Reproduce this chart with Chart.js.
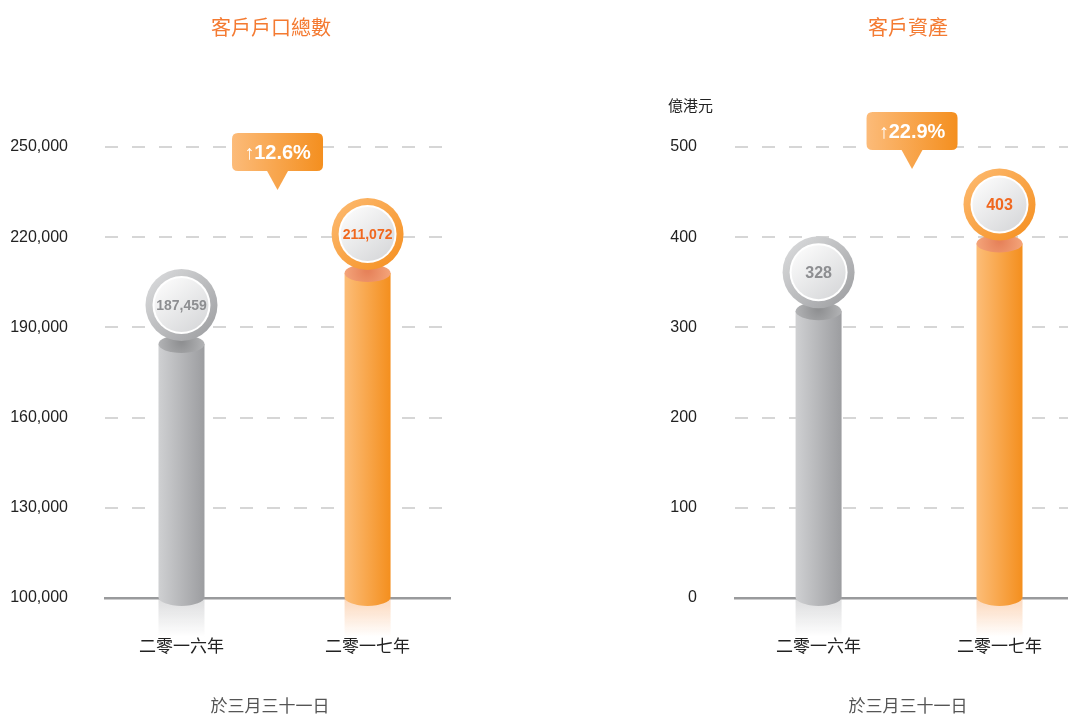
<!DOCTYPE html>
<html><head><meta charset="utf-8">
<script src="https://cdn.jsdelivr.net/npm/chart.js@4.4.1/dist/chart.umd.min.js"></script>
<style>
html,body{margin:0;padding:0;background:#fff;}
#wrap{position:relative;width:1068px;height:714px;overflow:hidden;}
canvas{position:absolute;top:0;}
.t{position:absolute;white-space:nowrap;transform:translateX(-50%);font-family:"Noto Sans CJK TC",sans-serif;}
.title{top:14px;font-size:20px;color:#f47a31;line-height:26px;}
.foot{top:693px;font-size:17px;color:#555;line-height:24px;}
.unit{position:absolute;left:668px;top:95px;font-size:15px;color:#222;font-family:"Noto Sans CJK TC",sans-serif;line-height:20px;white-space:nowrap;}
</style></head><body>
<div id="wrap">
<canvas id="c1" width="534" height="714" style="left:0"></canvas>
<canvas id="c2" width="545" height="714" style="left:534px"></canvas>
<div class="t title" style="left:271px">客戶戶口總數</div>
<div class="t title" style="left:908px">客戶資產</div>
<div class="unit">億港元</div>
<div class="t foot" style="left:270px">於三月三十一日</div>
<div class="t foot" style="left:908px">於三月三十一日</div>
</div>
<script>
const years = ['二零一六年', '二零一七年'];
const accountTotals = [187459, 211072];
const clientAssets = [328, 403];
const accountGrowth = '12.6%';
const assetGrowth = '22.9%';
const accountTicks = [100000, 130000, 160000, 190000, 220000, 250000];
const assetTicks = [0, 100, 200, 300, 400, 500];

const palettes = [
  {light:'#cfd0d2', dark:'#9c9da0', top1:'#b2b3b5', top2:'#8f9092', ringA:'#dedfe0', ringB:'#9a9b9e', text:'#8d8e91', refl:'rgba(175,176,179,'},
  {light:'#fcbd78', dark:'#f48f1e', top1:'#f4a47a', top2:'#e6825a', ringA:'#fdbc74', ringB:'#f58e1d', text:'#f0681f', refl:'rgba(248,165,100,'}
];

function roundRect(ctx, x, y, w, h, r){
  ctx.beginPath();
  ctx.moveTo(x+r, y);
  ctx.lineTo(x+w-r, y); ctx.quadraticCurveTo(x+w, y, x+w, y+r);
  ctx.lineTo(x+w, y+h-r); ctx.quadraticCurveTo(x+w, y+h, x+w-r, y+h);
  ctx.lineTo(x+r, y+h); ctx.quadraticCurveTo(x, y+h, x, y+h-r);
  ctx.lineTo(x, y+r); ctx.quadraticCurveTo(x, y, x+r, y);
  ctx.closePath();
}

const cylPlugin = {
  id: 'cyl',
  afterDatasetsDraw(chart, args, opts){
    const ctx = chart.ctx;
    const meta = chart.getDatasetMeta(0);
    const ry = 9;
    ctx.save();
    meta.data.forEach((bar, i) => {
      const p = palettes[i];
      const x = bar.x, w = bar.width, l = x - w/2, r = x + w/2;
      const top = bar.y + ry, base = bar.base;
      // reflection
      let g = ctx.createLinearGradient(0, base, 0, base + 40);
      g.addColorStop(0, p.refl + '0.45)');
      g.addColorStop(1, p.refl + '0)');
      ctx.fillStyle = g;
      ctx.fillRect(l, base, w, 40);
      // body
      const hg = ctx.createLinearGradient(l, 0, r, 0);
      hg.addColorStop(0, p.light); hg.addColorStop(1, p.dark);
      ctx.fillStyle = hg;
      ctx.beginPath();
      ctx.moveTo(l, top);
      ctx.lineTo(l, base);
      ctx.ellipse(x, base, w/2, ry, 0, Math.PI, 0, true);
      ctx.lineTo(r, top);
      ctx.closePath();
      ctx.fill();
      // top ellipse
      const rg = ctx.createRadialGradient(x, top - 3, 2, x, top, w/2);
      rg.addColorStop(0, p.top2); rg.addColorStop(1, p.top1);
      ctx.fillStyle = rg;
      ctx.beginPath();
      ctx.ellipse(x, top, w/2, ry, 0, 0, Math.PI*2);
      ctx.fill();
      // value badge
      const cy = bar.y - 30, R = 36;
      const cg = ctx.createLinearGradient(x - R, cy - R, x + R, cy + R);
      cg.addColorStop(0, p.ringA); cg.addColorStop(1, p.ringB);
      ctx.fillStyle = cg;
      ctx.beginPath(); ctx.arc(x, cy, R, 0, Math.PI*2); ctx.fill();
      ctx.fillStyle = '#ffffff';
      ctx.beginPath(); ctx.arc(x, cy, 29, 0, Math.PI*2); ctx.fill();
      const ig = ctx.createLinearGradient(x - 20, cy - 24, x + 20, cy + 26);
      ig.addColorStop(0, '#fbfbfb'); ig.addColorStop(1, '#d6d7d9');
      ctx.fillStyle = ig;
      ctx.beginPath(); ctx.arc(x, cy, 27, 0, Math.PI*2); ctx.fill();
      ctx.fillStyle = p.text;
      ctx.font = 'bold ' + opts.valueSize + 'px "Liberation Sans", Arial, sans-serif';
      ctx.textAlign = 'center'; ctx.textBaseline = 'middle';
      ctx.fillText(opts.format(chart.data.datasets[0].data[i].y), x, cy + 1);
    });
    // growth callout
    const b0 = meta.data[0], b1 = meta.data[1];
    const mx = (b0.x + b1.x) / 2 + 3;
    const bw = 91, bh = 38;
    const bx = mx - bw/2, by = chart.chartArea.top + opts.calloutOffset;
    const gg = ctx.createLinearGradient(bx, 0, bx + bw, 0);
    gg.addColorStop(0, '#fcbb79'); gg.addColorStop(1, '#f48f1f');
    ctx.fillStyle = gg;
    roundRect(ctx, bx, by, bw, bh, 6);
    ctx.fill();
    ctx.beginPath();
    ctx.moveTo(mx - 11, by + bh - 1);
    ctx.lineTo(mx + 11, by + bh - 1);
    ctx.lineTo(mx, by + bh + 19);
    ctx.closePath();
    ctx.fill();
    ctx.fillStyle = '#ffffff';
    ctx.font = 'bold 20px "Liberation Sans", Arial, sans-serif';
    ctx.textAlign = 'center'; ctx.textBaseline = 'middle';
    ctx.fillText('\u2191' + opts.growth, mx, by + bh/2 + 1);
    ctx.restore();
  }
};

function makeChart(id, values, tickVals, xMin, xMax, axisWidth, tickPad, padRight, fmt, growth, calloutOffset, valueSize){
  return new Chart(document.getElementById(id), {
    type: 'bar',
    data: {
      datasets: [{
        data: values.map((v, i) => ({x: i, y: v})),
        base: tickVals[0],
        backgroundColor: 'rgba(0,0,0,0)',
        borderWidth: 0,
        barThickness: 46
      }]
    },
    options: {
      responsive: false,
      animation: false,
      events: [],
      layout: {padding: {left: 0, right: padRight, top: 147, bottom: 56}},
      plugins: {
        legend: {display: false},
        tooltip: {enabled: false},
        cyl: {format: fmt, growth: growth, calloutOffset: calloutOffset, valueSize: valueSize}
      },
      scales: {
        x: {
          type: 'linear',
          offset: false,
          bounds: 'data',
          min: xMin, max: xMax,
          afterBuildTicks: s => { s.ticks = years.map((_, i) => ({value: i})); },
          afterFit: s => { s.height = 60; },
          ticks: {
            callback: v => years[v],
            padding: 37,
            color: '#222',
            autoSkip: false, maxRotation: 0,
            font: {size: 17, family: '"Noto Sans CJK TC", sans-serif'}
          },
          grid: {display: false, drawTicks: false, offset: false},
          border: {display: true, color: '#999a9c', width: 2.5}
        },
        y: {
          min: tickVals[0], max: tickVals[tickVals.length - 1],
          afterBuildTicks: s => { s.ticks = tickVals.map(v => ({value: v})); },
          afterFit: s => { s.width = axisWidth; },
          ticks: {
            callback: v => fmt(v),
            padding: tickPad,
            color: '#222',
            font: {size: 16, family: '"Liberation Sans", Arial, sans-serif'}
          },
          grid: {color: '#d6d6d6', lineWidth: 2, drawTicks: false},
          border: {display: false, dash: [13, 14]}
        }
      }
    },
    plugins: [cylPlugin]
  });
}

const fmtAcc = v => Number(v).toLocaleString('en-US');
const fmtAst = v => String(v);
makeChart('c1', accountTotals, accountTicks, -0.411, 1.443, 105, 37, 84, fmtAcc, accountGrowth, -14, 14);
makeChart('c2', clientAssets, assetTicks, -0.462, 1.400, 201, 38, 0, fmtAst, assetGrowth, -35, 16);
</script>
</body></html>
